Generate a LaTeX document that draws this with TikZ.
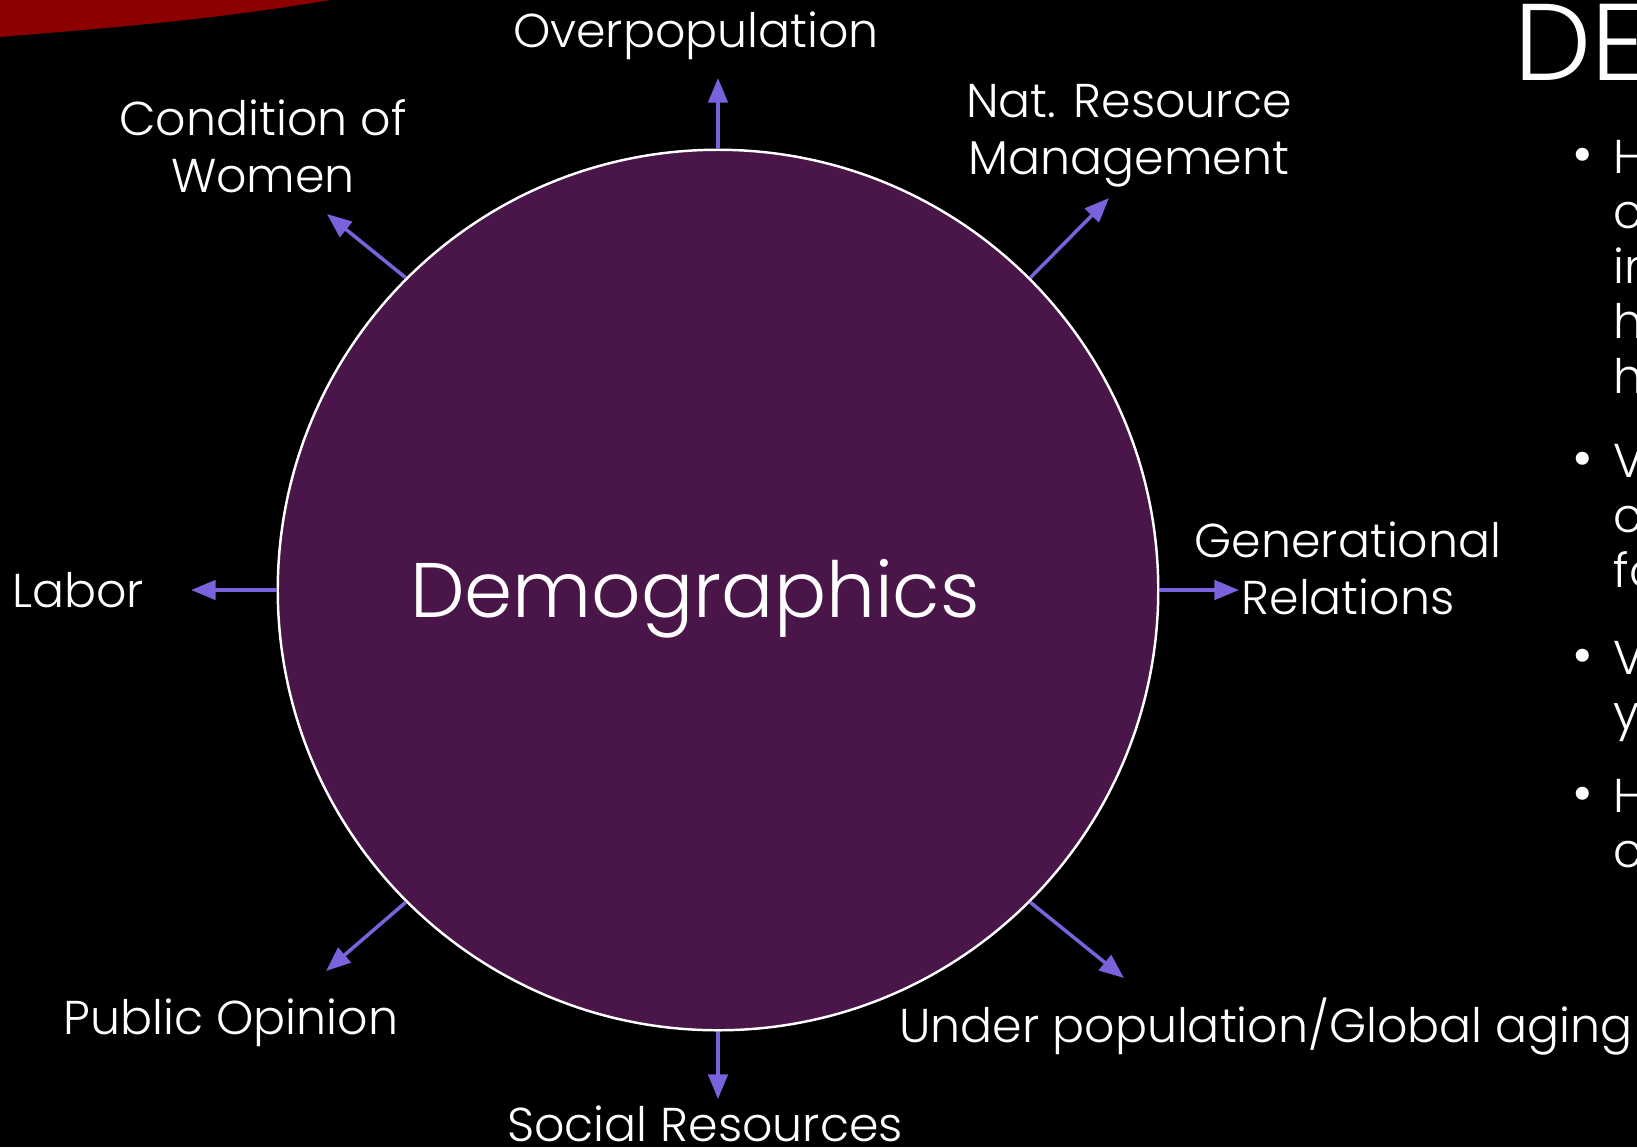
\documentclass[tikz,border=0pt]{standalone}
\usepackage{fontspec}
\IfFontExistsTF{Poppins Light}{\setmainfont{Poppins Light}}{\setmainfont{Poppins}}
\usetikzlibrary{arrows.meta}
\definecolor{hubfill}{RGB}{74,21,72}
\definecolor{arrowblue}{RGB}{122,98,220}
\definecolor{swoosh}{RGB}{140,0,0}
\tikzset{
  hub/.style={circle,draw=white,line width=0.7pt,fill=hubfill,minimum size=8.8cm,inner sep=0pt},
  hubtext/.style={text=white,inner sep=0pt,font=\fontsize{22}{26}\selectfont,text height=15.4pt,text depth=0pt},
  lbl/.style={text=white,align=center,font=\fontsize{13.5}{16.2}\selectfont},
  arr/.style={draw=arrowblue,line width=1pt,-{Triangle[length=7pt,width=5.5pt]}},
  side/.style={text=white,anchor=base west,inner sep=0pt,font=\fontsize{13.5}{16.2}\selectfont}
}

\begin{document}
\begin{tikzpicture}[x=0.01cm,y=-0.01cm]
          % background
          \fill[black] (0,0) rectangle (1637,1147);
          \clip (0,0) rectangle (1637,1147);
          \fill[swoosh] (0,0) -- (330,0) .. controls (200,22) and (80,30) .. (0,37) -- cycle;
          % hub
          \node[hub] (demo) at (718,590) {};
          \node[hubtext] (demo-lbl) at (695,590) {Demographics};
          % labels
          \node[lbl] (over) at (696,36) {Overpopulation};
          \node[lbl] (nrm) at (1129,136) {Nat. Resource\\Management};
          \node[lbl] (cow) at (263,146) {Condition of\\Women};
          \node[lbl] (labor) at (78,590) {Labor};
          \node[lbl] (gen) at (1348,568) {Generational\\Relations};
          \node[lbl] (pub) at (231,1023) {Public Opinion};
          \node[lbl] (soc) at (705,1124) {Social Resources};
          \node[lbl] (under) at (1266,1027) {Under population/Global aging};
          % arrow tips
          \coordinate (over-tip) at (718,78);
          \coordinate (nrm-tip) at (1109,198);
          \coordinate (gen-tip) at (1239,590);
          \coordinate (under-tip) at (1124,978);
          \coordinate (soc-tip) at (718,1099);
          \coordinate (pub-tip) at (326,971);
          \coordinate (labor-tip) at (191,590);
          \coordinate (cow-tip) at (327,214);
          % arrows
          \draw[arr] (demo.90) -- (over-tip);
          \draw[arr] (demo.45) -- (nrm-tip);
          \draw[arr] (demo.0) -- (gen-tip);
          \draw[arr] (demo.-45) -- (under-tip);
          \draw[arr] (demo.-90) -- (soc-tip);
          \draw[arr] (demo.-135) -- (pub-tip);
          \draw[arr] (demo.180) -- (labor-tip);
          \draw[arr] (demo.135) -- (cow-tip);
          % side text
          \node[side,font=\fontsize{31}{36}\selectfont] (title) at (1514,80) {DE};
          \foreach \y in {173,477,674,812}
            \node[side,font=\fontsize{16}{18}\selectfont] (dot\y) at (1572,\y) {•};
          \foreach \y/\t in {173/H,228/c,283/in,338/h,393/h,477/V,532/c,587/fo,674/V,729/y,812/H,867/c}
            \node[side] (line\y) at (1613,\y) {\t};
\end{tikzpicture}
\end{document}
